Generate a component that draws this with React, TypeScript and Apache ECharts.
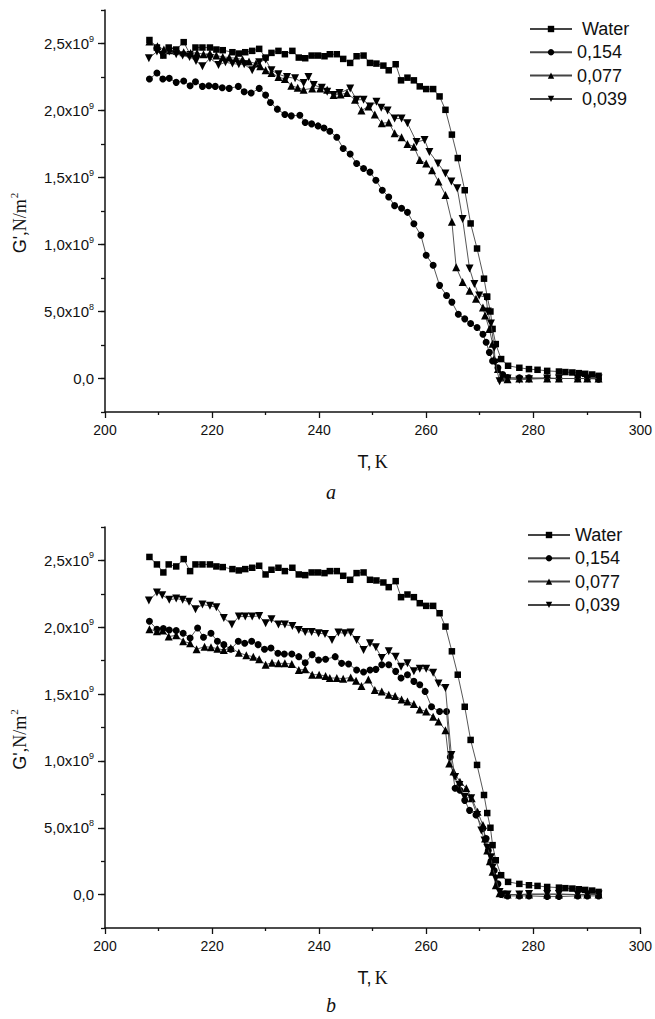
import React, { useEffect, useRef } from "react";
import * as echarts from "echarts";

// Temperature (K) / storage modulus G' (in units of 10^9 N/m^2)
const seriesNames = ["Water", "0,154", "0,077", "0,039"];

const water: number[][] = [
  [208.3, 2.526], [209.7, 2.47], [210.9, 2.41], [211.9, 2.47], [213.3, 2.455], [214.7, 2.51], [215.9, 2.42],
  [216.9, 2.47], [218.2, 2.47], [219.6, 2.47], [220.8, 2.455], [222, 2.45], [223.8, 2.435], [225, 2.425],
  [226.2, 2.435], [227.5, 2.445], [228.8, 2.46], [230, 2.395], [231.1, 2.43], [232.4, 2.445], [233.6, 2.42],
  [235, 2.445], [236.2, 2.395], [237.4, 2.39], [238.6, 2.41], [239.8, 2.41], [241, 2.405], [242, 2.42],
  [243.3, 2.42], [244.5, 2.385], [245.8, 2.355], [247, 2.405], [248.3, 2.41], [249.5, 2.355], [250.7, 2.35],
  [252, 2.335], [253, 2.3], [254.3, 2.345], [255.3, 2.225], [256.5, 2.245], [257.7, 2.225], [258.8, 2.18],
  [260, 2.16], [261.3, 2.16], [262.5, 2.105], [263.6, 2.005], [264.8, 1.82], [265.9, 1.645], [267.2, 1.405],
  [268.3, 1.157], [269.5, 0.97], [270.8, 0.745], [271.4, 0.61], [272, 0.5], [272.4, 0.37], [273, 0.257],
  [274, 0.145], [275.3, 0.095], [277.4, 0.08], [279.2, 0.07], [280.8, 0.065], [282.6, 0.057], [284.8, 0.052],
  [286, 0.048], [287.3, 0.045], [288.5, 0.04], [289.7, 0.035], [291, 0.03], [292.2, 0.02],
];

const a154: number[][] = [
  [208.3, 2.235], [209.7, 2.28], [210.8, 2.235], [212, 2.24], [213.3, 2.21], [214.7, 2.22], [215.9, 2.185],
  [216.9, 2.215], [218.2, 2.18], [219.4, 2.185], [220.6, 2.18], [221.9, 2.17], [223.2, 2.165], [224.9, 2.18],
  [226, 2.14], [227.3, 2.13], [228.8, 2.165], [230, 2.115], [230.9, 2.06], [232.2, 2.01], [233.6, 1.97],
  [234.8, 1.96], [236.4, 1.965], [237.4, 1.91], [238.6, 1.9], [239.8, 1.885], [240.9, 1.87], [242, 1.845],
  [243.3, 1.8], [244.5, 1.717], [245.8, 1.675], [247, 1.605], [248.3, 1.567], [249.5, 1.54], [250.6, 1.48],
  [251.8, 1.405], [253, 1.355], [254.1, 1.29], [255.4, 1.27], [256.5, 1.24], [257.7, 1.155], [259, 1.07],
  [260, 0.92], [261.3, 0.845], [262.5, 0.695], [263.8, 0.62], [264.8, 0.57], [266, 0.48], [267.2, 0.445],
  [268.3, 0.41], [269.5, 0.38], [270.6, 0.33], [271.2, 0.27], [271.8, 0.195], [272.4, 0.13], [273.4, 0.08],
  [274.3, 0.03], [275.2, 0.007], [277.4, 0.005], [279.2, 0.005], [282.6, 0.005], [284.8, 0.0], [288.3, 0.0],
  [290.1, 0.0], [292.2, -0.005],
];

const a077: number[][] = [
  [208.3, 2.515], [209.8, 2.48], [211, 2.455], [212.2, 2.45], [213.4, 2.445], [214.7, 2.435], [216, 2.43],
  [217.2, 2.43], [218.4, 2.42], [219.6, 2.425], [220.8, 2.41], [222, 2.4], [223.2, 2.395], [224.5, 2.39],
  [225.7, 2.38], [226.9, 2.365], [228.2, 2.35], [229, 2.33], [230, 2.3], [231.1, 2.28], [232.4, 2.25],
  [233.6, 2.235], [234.8, 2.185], [236, 2.17], [237.1, 2.155], [238.7, 2.165], [240.2, 2.165], [241.5, 2.155],
  [242.7, 2.115], [244, 2.12], [245.2, 2.13], [246.7, 2.08], [247.9, 2.0], [249.2, 2.03], [250.4, 1.97],
  [251.7, 1.905], [253, 1.91], [254.1, 1.83], [255.4, 1.8], [256.5, 1.75], [257.7, 1.73], [258.8, 1.63],
  [260, 1.605], [261.1, 1.555], [262.3, 1.47], [263.6, 1.37], [264.8, 1.17], [265.6, 0.83], [266.8, 0.72],
  [268.1, 0.655], [269.3, 0.595], [270.6, 0.53], [271, 0.47], [271.8, 0.37], [272.4, 0.26], [272.7, 0.145],
  [273.4, 0.07], [274, 0.007], [275.2, -0.005], [277.4, 0.0], [279.2, 0.0], [282.6, 0.0], [284.8, 0.0],
  [288.3, 0.0], [290.1, 0.0], [292.2, 0.0],
];

const a039: number[][] = [
  [208.2, 2.39], [209.7, 2.44], [210.7, 2.415], [212, 2.44], [213.3, 2.42], [214.5, 2.41], [215.8, 2.4],
  [217, 2.37], [218.2, 2.33], [219.6, 2.39], [221.2, 2.34], [222.5, 2.36], [223.8, 2.35], [225, 2.345],
  [226, 2.345], [227.5, 2.3], [228.8, 2.36], [230, 2.38], [231.1, 2.3], [232.4, 2.27], [234, 2.25],
  [235.5, 2.24], [237.1, 2.205], [238, 2.25], [239, 2.19], [240.5, 2.17], [241.5, 2.14], [242.7, 2.115],
  [243.8, 2.13], [245.8, 2.165], [247, 2.08], [248.3, 2.08], [249.5, 2.03], [250.7, 2.065], [251.6, 2.02],
  [252.8, 2.0], [254.1, 1.94], [255.4, 1.94], [256.5, 1.905], [258.2, 1.765], [259.7, 1.78], [260.6, 1.69],
  [262.2, 1.605], [263.6, 1.53], [264.7, 1.47], [265.8, 1.42], [266.8, 1.19], [268.1, 0.82], [269, 0.705],
  [269.9, 0.62], [271.2, 0.605], [271.5, 0.5], [272.1, 0.41], [272.7, 0.23], [272.9, 0.12], [273.7, -0.02],
  [275.2, 0.0], [277.4, -0.01], [279.2, -0.005], [282.6, 0.0], [284.8, 0.0], [288.3, 0.0], [290.1, 0.0],
  [292.2, 0.0],
];

const b154: number[][] = [
  [208.3, 2.045], [209.7, 1.985], [210.9, 1.99], [212, 1.98], [213.3, 1.975], [214.6, 1.955], [215.9, 1.92],
  [217.3, 1.995], [218.4, 1.925], [219.8, 1.955], [221, 1.895], [222.2, 1.87], [223.5, 1.835], [224.9, 1.895],
  [226.1, 1.88], [227.4, 1.895], [228.6, 1.87], [229.8, 1.835], [231, 1.845], [232.3, 1.805], [233.5, 1.8],
  [234.9, 1.8], [236.2, 1.78], [237.4, 1.735], [238.7, 1.795], [239.9, 1.755], [241.2, 1.76], [243, 1.78],
  [244.2, 1.73], [245.5, 1.725], [247, 1.68], [248.3, 1.665], [249.5, 1.68], [250.6, 1.685], [251.7, 1.72],
  [253, 1.72], [254.3, 1.67], [255.3, 1.62], [256.5, 1.645], [257.7, 1.595], [258.8, 1.57], [259.8, 1.52],
  [261, 1.405], [262.5, 1.37], [263.8, 1.37], [264.5, 1.03], [265.4, 0.795], [266.3, 0.78], [267.2, 0.705],
  [268.1, 0.63], [269.3, 0.595], [270.6, 0.495], [271.2, 0.42], [271.6, 0.33], [272.1, 0.25], [272.7, 0.18],
  [273.4, 0.08], [274, 0.0], [275.2, -0.01], [277.4, -0.01], [279.2, -0.01], [282.6, -0.015], [284.8, -0.015],
  [288.3, -0.01], [290.1, -0.01], [292.2, -0.01],
];

const b077: number[][] = [
  [208.3, 1.985], [209.7, 1.97], [210.8, 1.975], [211.9, 1.93], [213.3, 1.94], [214.6, 1.895], [215.9, 1.88],
  [217.1, 1.835], [218.6, 1.855], [219.8, 1.85], [221, 1.84], [222.2, 1.83], [223.5, 1.845], [225, 1.81],
  [226.4, 1.79], [227.7, 1.78], [228.8, 1.76], [230, 1.72], [231.2, 1.735], [232.4, 1.73], [233.6, 1.73],
  [234.9, 1.725], [236.2, 1.68], [237.4, 1.685], [238.7, 1.645], [240, 1.645], [241.2, 1.635], [242, 1.62],
  [243.3, 1.62], [244.5, 1.615], [245.9, 1.625], [246.9, 1.6], [247.9, 1.56], [249.2, 1.61], [250.4, 1.53],
  [251.7, 1.52], [253, 1.495], [254.2, 1.485], [255.4, 1.46], [256.5, 1.445], [257.7, 1.425], [258.8, 1.385],
  [260, 1.37], [261.3, 1.33], [262.3, 1.295], [263.6, 1.23], [264.3, 0.98], [265.1, 0.92], [266.3, 0.845],
  [267.5, 0.795], [268.5, 0.72], [269.6, 0.62], [270.6, 0.52], [271, 0.42], [271.4, 0.33], [271.9, 0.25],
  [272.4, 0.17], [273, 0.07], [273.7, 0.01], [275.2, 0.0], [277.4, 0.0], [279.2, 0.0], [282.6, 0.0],
  [284.8, 0.0], [288.3, 0.0], [290.1, 0.0], [292.2, 0.0],
];

const b039: number[][] = [
  [208.2, 2.2], [209.7, 2.26], [210.7, 2.24], [212, 2.205], [213.3, 2.215], [214.5, 2.205], [215.7, 2.19],
  [216.9, 2.135], [218.2, 2.17], [219.6, 2.16], [220.8, 2.15], [222.2, 2.07], [223.7, 2.02], [225, 2.08],
  [226.2, 2.08], [227.5, 2.08], [228.8, 2.085], [230, 2.03], [231.1, 2.06], [232.4, 2.02], [233.6, 2.02],
  [235, 2.01], [236.2, 1.98], [237.4, 1.965], [238.6, 1.965], [239.9, 1.955], [241.1, 1.95], [242.4, 1.905],
  [243.6, 1.96], [244.8, 1.955], [245.9, 1.96], [247, 1.905], [248.3, 1.83], [249.5, 1.88], [250.6, 1.85],
  [251.7, 1.77], [253, 1.82], [254.3, 1.78], [255.3, 1.705], [256.5, 1.73], [257.7, 1.67], [258.8, 1.69],
  [260, 1.69], [261.3, 1.66], [262.3, 1.58], [263.6, 1.545], [264.7, 1.045], [265.4, 0.88], [266.2, 0.82],
  [267.2, 0.73], [268.4, 0.72], [269.5, 0.595], [270.3, 0.48], [270.9, 0.405], [271.4, 0.35], [272.1, 0.28],
  [272.4, 0.2], [273, 0.12], [273.7, 0.02], [274.3, 0.0], [275.2, 0.0], [277.4, 0.0], [279.2, 0.005],
  [282.6, 0.005], [284.8, 0.005], [288.3, 0.0], [290.1, 0.0], [292.2, 0.0],
];

// Axis ticks
const xTickValues = [200, 220, 240, 260, 280, 300];
const yTickValues = [0, 0.5, 1, 1.5, 2, 2.5];
const yTickMantissa = ["0,0", "5,0x10", "1,0x10", "1,5x10", "2,0x10", "2,5x10"];
const yTickExponent = ["", "8", "9", "9", "9", "9"];
const captions = ["a", "b"];

const SANS = "Liberation Sans";
const SERIF = "Liberation Serif";
const INK = "#111";

const symbols = [
  { symbol: "rect", size: 6.5, rotate: 0 },
  { symbol: "circle", size: 7, rotate: 0 },
  { symbol: "triangle", size: 8, rotate: 0 },
  { symbol: "triangle", size: 8, rotate: 180 },
];

function yLabel(v: number): string {
  const i = yTickValues.findIndex((t) => Math.abs(t - v) < 1e-6);
  if (i < 0) return "";
  const e = yTickExponent[i];
  return e ? `{m|${yTickMantissa[i]}}{e|${e}}` : `{m|${yTickMantissa[i]}}`;
}

export default function App() {
  const ref = useRef<HTMLDivElement>(null);

  useEffect(() => {
    if (!ref.current) return;
    const chart = echarts.init(ref.current, undefined, { renderer: "svg" });

    const grids = [
      { left: 102, top: 10, width: 539, height: 402 },
      { left: 102, top: 527, width: 539, height: 401 },
    ];

    const lineAxis = { show: true, onZero: false, lineStyle: { color: INK, width: 1.5 } };

    const xAxis = grids.map((_, i) => ({
      gridIndex: i,
      type: "value",
      min: 200,
      max: 300,
      interval: 20,
      axisLine: lineAxis,
      axisTick: { show: true, length: 6, customValues: xTickValues, lineStyle: { color: INK, width: 1.3 } },
      minorTick: { show: true, splitNumber: 2, length: 3, lineStyle: { color: INK, width: 1.3 } },
      splitLine: { show: false },
      minorSplitLine: { show: false },
      axisLabel: { fontSize: 14, fontFamily: SANS, color: INK, margin: 11 },
      name: "{g|T,} {r|K}",
      nameLocation: "middle",
      nameGap: 41,
      nameTextStyle: {
        rich: {
          g: { fontFamily: SANS, fontSize: 18, color: INK },
          r: { fontFamily: SERIF, fontSize: 18, color: INK },
        },
      },
    }));

    const yAxis: any[] = [];
    grids.forEach((_, i) => {
      yAxis.push({
        gridIndex: i,
        type: "value",
        min: -0.25,
        max: 2.75,
        interval: 0.25,
        axisLine: lineAxis,
        axisTick: { show: true, length: 7, customValues: yTickValues, lineStyle: { color: INK, width: 1.3 } },
        axisLabel: {
          customValues: yTickValues,
          margin: 11,
          formatter: yLabel,
          rich: {
            m: { fontFamily: SANS, fontSize: 15, color: INK },
            e: { fontFamily: SANS, fontSize: 9, color: INK, padding: [0, 0, 10, 0] },
          },
        },
        splitLine: { show: false },
        name: "{g|G'}{r|,N/m}{s|2}",
        nameLocation: "middle",
        nameGap: 74,
        nameTextStyle: {
          padding: [0, 24, 0, 0],
          rich: {
            g: { fontFamily: SANS, fontSize: 18, color: INK },
            r: { fontFamily: SERIF, fontSize: 18, color: INK },
            s: { fontFamily: SERIF, fontSize: 11, color: INK, padding: [0, 0, 12, 1] },
          },
        },
      });
      yAxis.push({
        gridIndex: i,
        type: "value",
        position: "left",
        min: -0.25,
        max: 2.75,
        interval: 0.25,
        axisLine: { show: false, onZero: false },
        axisTick: { show: true, length: 4, lineStyle: { color: INK, width: 1.3 } },
        axisLabel: { show: false },
        splitLine: { show: false },
      });
    });

    const chartData = [
      [water, a154, a077, a039],
      [water, b154, b077, b039],
    ];

    const series: any[] = [];
    chartData.forEach((sets, gi) => {
      sets.forEach((d, si) => {
        series.push({
          type: "line",
          name: seriesNames[si],
          xAxisIndex: gi,
          yAxisIndex: gi * 2,
          data: d,
          symbol: symbols[si].symbol,
          symbolSize: symbols[si].size,
          symbolRotate: symbols[si].rotate,
          showSymbol: true,
          lineStyle: { color: "#444", width: 0.9 },
          itemStyle: { color: "#000" },
          z: 2 + si,
        });
      });
    });

    const legendBase = {
      orient: "vertical",
      itemWidth: 42,
      itemHeight: 8,
      itemGap: 3.3,
      data: seriesNames,
      selectedMode: false,
      textStyle: { fontFamily: SANS, fontSize: 18, color: INK, lineHeight: 20 },
    };

    const option: any = {
      animation: false,
      backgroundColor: "#fff",
      grid: grids,
      xAxis,
      yAxis,
      series,
      legend: [
        {
          ...legendBase,
          left: 524,
          top: 14,
          formatter: (n: string) => (n === "Water" || n === "0,039" ? " " + n : n),
        },
        { ...legendBase, left: 522, top: 520 },
      ],
      graphic: [
        {
          type: "text",
          left: 326,
          top: 482,
          style: { text: captions[0], font: `italic 20px ${SERIF}`, fill: INK },
        },
        {
          type: "text",
          left: 326,
          top: 995,
          style: { text: captions[1], font: `italic 20px ${SERIF}`, fill: INK },
        },
      ],
    };

    chart.setOption(option);
    return () => chart.dispose();
  }, []);

  return (
    <div
      ref={ref}
      style={{ position: "absolute", left: 0, top: 0, width: 655, height: 1019, background: "#fff" }}
    />
  );
}
